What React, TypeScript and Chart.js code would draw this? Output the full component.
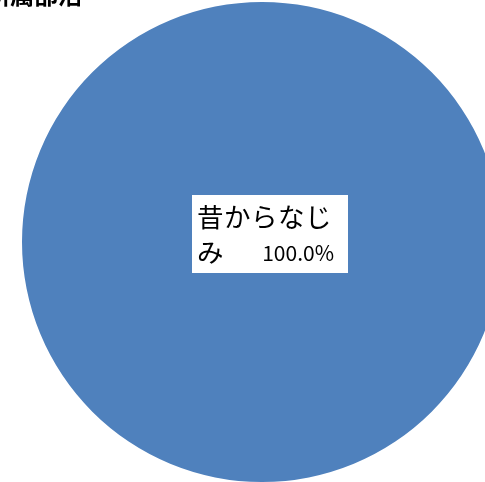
import React, { useEffect, useRef } from "react";
import { Chart, registerables } from "chart.js";

Chart.register(...registerables);

const categories = ["昔からなじみ"];
const values = [100];
const colors = ["#4F81BD"];
const titleText = "所属部活";

const labelPlugin = {
  id: "labelBox",
  afterDraw(chart: any) {
    const ctx = chart.ctx;
    const meta = chart.getDatasetMeta(0);
    const arc = meta.data[0];
    if (!arc) return;
    const cx = arc.x;
    const cy = arc.y;
    const total = values.reduce((a, b) => a + b, 0);
    const pct = ((values[0] / total) * 100).toFixed(1) + "%";
    const cat = categories[0];
    const line1 = cat.slice(0, 5);
    const line2a = cat.slice(5);
    ctx.save();
    const bx = cx - 70;
    const by = cy - 47;
    const bw = 156;
    const bh = 78;
    ctx.fillStyle = "#FFFFFF";
    ctx.fillRect(bx, by, bw, bh);
    ctx.fillStyle = "#000000";
    ctx.font = '26.5px "Noto Sans CJK JP", sans-serif';
    ctx.textBaseline = "middle";
    ctx.textAlign = "left";
    (ctx as any).letterSpacing = "0.5px";
    ctx.fillText(line1, bx + 5, by + 22);
    (ctx as any).letterSpacing = "0px";
    ctx.fillText(line2a, bx + 5, by + 57);
    ctx.textAlign = "right";
    ctx.font = '21px "Noto Sans CJK JP", sans-serif';
    ctx.fillText(pct, bx + bw - 14, by + 58);
    // title (clipped at top)
    ctx.font = 'bold 24px "Noto Sans CJK JP", sans-serif';
    ctx.textAlign = "right";
    ctx.textBaseline = "alphabetic";
    ctx.fillText(titleText, 82, 4);
    ctx.restore();
  },
};

export default function App() {
  const ref = useRef<HTMLCanvasElement | null>(null);
  useEffect(() => {
    if (!ref.current) return;
    const chart = new Chart(ref.current, {
      type: "pie",
      data: {
        labels: categories,
        datasets: [
          {
            data: values,
            backgroundColor: colors,
            borderWidth: 0,
          },
        ],
      },
      options: {
        responsive: false,
        animation: false,
        layout: { padding: 2 },
        plugins: {
          legend: { display: false },
          tooltip: { enabled: false },
          title: { display: false },
        },
      },
      plugins: [labelPlugin],
    });
    return () => chart.destroy();
  }, []);
  return (
    <div
      style={{
        position: "fixed",
        left: 0,
        top: 0,
        width: 485,
        height: 482,
        overflow: "hidden",
        background: "#fff",
      }}
    >
      <canvas
        ref={ref}
        width={524}
        height={484}
        style={{ position: "absolute", left: 0, top: 0, width: 524, height: 484 }}
      />
    </div>
  );
}
